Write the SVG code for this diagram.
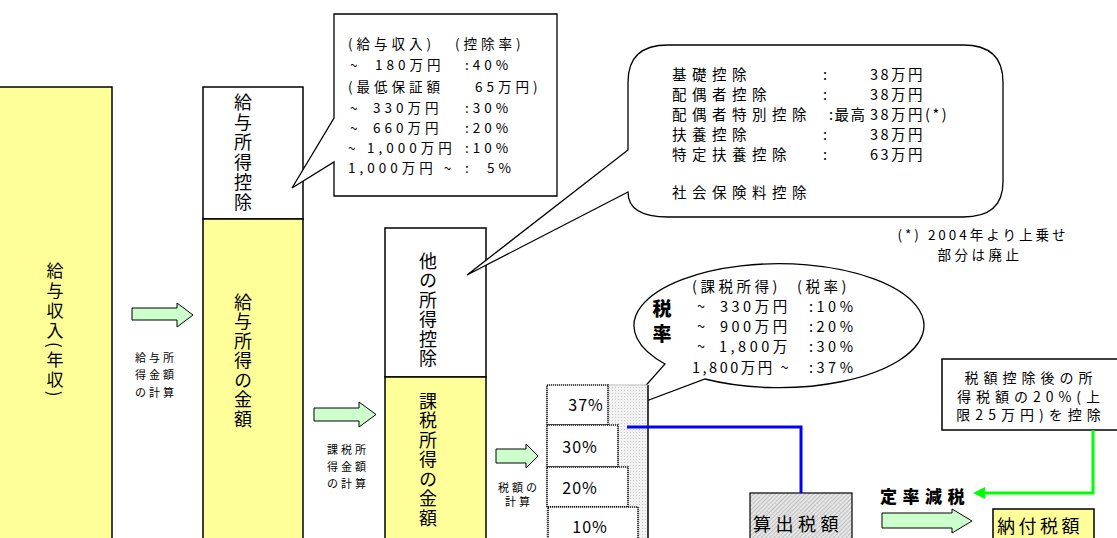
<svg xmlns="http://www.w3.org/2000/svg" width="1117" height="538" viewBox="0 0 1117 538">
<style>
text{font-family:"Noto Sans CJK JP","Noto Sans",sans-serif;fill:#000}
.vt{writing-mode:vertical-rl;font-size:18px;letter-spacing:1.5px}
.c1{font-size:13.5px;letter-spacing:4px}
.c2{font-size:14.5px;letter-spacing:5.5px}
.n2{font-size:14.5px;letter-spacing:2.5px}
.c3{font-size:14.5px;letter-spacing:3.5px}
.sm{font-size:11px;letter-spacing:3px;text-anchor:middle}
.pct{font-size:16px;letter-spacing:1px;text-anchor:middle}
.yel{fill:#ffff99;stroke:#000;stroke-width:1.5}
.wht{fill:#fff;stroke:#000;stroke-width:1.5}
.barr{fill:#ccffcc;stroke:#000;stroke-width:1}
.bx{fill:#fff;stroke:#111;stroke-width:1.6;stroke-dasharray:1.2 0.8}
.call{fill:#fff;stroke:#000;stroke-width:1.3}
</style>
<defs>
<pattern id="hatch" width="3" height="3" patternUnits="userSpaceOnUse" patternTransform="rotate(45)">
<rect width="3" height="3" fill="#e6e6e6"/><line x1="0" y1="0" x2="0" y2="3" stroke="#9a9a9a" stroke-width="1"/>
</pattern>
<pattern id="dots" width="3" height="3" patternUnits="userSpaceOnUse">
<rect width="3" height="3" fill="#f2f2f2"/><rect width="1" height="1" fill="#c8c8c8"/>
</pattern>
</defs>

<g id="col-salary">
<rect class="yel" x="-1" y="87" width="113" height="460"/>
<text class="vt" x="55" y="262" style="font-size:17px;letter-spacing:3px">給与収入(年収)</text>
</g>

<g id="col-deduction">
<rect class="wht" x="203" y="87" width="100" height="132"/>
<text class="vt" x="243" y="93" style="letter-spacing:2px">給与所得控除</text>
</g>
<g id="col-income">
<rect class="yel" x="203" y="219" width="100" height="330"/>
<text class="vt" x="243" y="293">給与所得の金額</text>
</g>

<g id="col-other">
<rect class="wht" x="385" y="228" width="101" height="149"/>
<text class="vt" x="428" y="252">他の所得控除</text>
</g>
<g id="col-taxable">
<rect class="yel" x="385" y="377" width="101" height="170"/>
<text class="vt" x="428" y="392">課税所得の金額</text>
</g>

<g id="callout-salary">
<path class="call" d="M334,14 H557 V196 H334 V162 L292,188 L334,118 Z"/>
<text class="c1" x="348" y="49">(給与収入)</text><text class="c1" x="455" y="49">(控除率)</text>
<text class="c1" x="350" y="70">~</text><text class="c1" x="375" y="70">180万円</text><text class="c1" x="465" y="70">:40%</text>
<text class="c1" x="348" y="92">(最低保証額</text><text class="c1" x="475" y="92">65万円)</text>
<text class="c1" x="350" y="113">~</text><text class="c1" x="373" y="113">330万円</text><text class="c1" x="465" y="113">:30%</text>
<text class="c1" x="350" y="133">~</text><text class="c1" x="373" y="133">660万円</text><text class="c1" x="465" y="133">:20%</text>
<text class="c1" x="348" y="153">~</text><text class="c1" x="367" y="153">1,000万円</text><text class="c1" x="465" y="153">:10%</text>
<text class="c1" x="348" y="173">1,000万円 ~</text><text class="c1" x="465" y="173">:</text><text class="c1" x="487" y="173">5%</text>
</g>

<g id="callout-other">
<path class="call" d="M668,45 H963 Q1003,45 1003,82 V182 Q1003,217 963,217 H668 Q628,217 628,192 L467,275 L628,150 V82 Q628,45 668,45 Z"/>
<text class="c2" x="672" y="80">基礎控除</text><text class="c2" x="823" y="80">:</text><text class="n2" x="870" y="80">38万円</text>
<text class="c2" x="672" y="100">配偶者控除</text><text class="c2" x="823" y="100">:</text><text class="n2" x="870" y="100">38万円</text>
<text class="c2" x="672" y="120">配偶者特別控除</text><text x="829" y="120" style="font-size:14.5px;letter-spacing:1.5px">:最高</text><text class="n2" x="870" y="120">38万円(*)</text>
<text class="c2" x="672" y="140">扶養控除</text><text class="c2" x="823" y="140">:</text><text class="n2" x="870" y="140">38万円</text>
<text class="c2" x="672" y="160">特定扶養控除</text><text class="c2" x="823" y="160">:</text><text class="n2" x="870" y="160">63万円</text>
<text class="c2" x="672" y="198">社会保険料控除</text>
</g>

<g id="footnote">
<text x="983" y="240" text-anchor="middle" style="font-size:13.5px;letter-spacing:3px">(*) 2004年より上乗せ</text>
<text x="980" y="260" text-anchor="middle" style="font-size:13.5px;letter-spacing:3.5px">部分は廃止</text>
</g>

<g id="callout-rate">
<path class="call" d="M665,364 A145,62 0 1 1 705,379 L625,409 Z"/>
<text x="662" y="316" text-anchor="middle" style="font-size:19px;font-weight:900">税</text>
<text x="662" y="341" text-anchor="middle" style="font-size:19px;font-weight:900">率</text>
<text class="c3" x="692" y="292">(課税所得)</text><text class="c3" x="797" y="292">(税率)</text>
<text class="c3" x="697" y="312">~</text><text class="c3" x="720" y="312">330万円</text><text class="c3" x="809" y="312">:10%</text>
<text class="c3" x="697" y="332">~</text><text class="c3" x="720" y="332">900万円</text><text class="c3" x="809" y="332">:20%</text>
<text class="c3" x="697" y="352">~</text><text class="c3" x="719" y="352">1,800万</text><text class="c3" x="809" y="352">:30%</text>
<text class="c3" x="692" y="373" style="letter-spacing:2.5px">1,800万円 ~</text><text class="c3" x="809" y="373">:37%</text>
</g>

<g id="tax-bars">
<rect x="546" y="385" width="102" height="160" fill="url(#dots)"/>
<line x1="648" y1="385" x2="648" y2="540" stroke="#000" stroke-width="1.5"/>
<line x1="608" y1="385" x2="648" y2="385" stroke="#bbb" stroke-width="1"/>
<rect class="bx" x="547" y="385" width="61" height="40"/>
<rect class="bx" x="547" y="425" width="71" height="42"/>
<rect class="bx" x="547" y="467" width="81" height="40"/>
<rect class="bx" x="548" y="507" width="90" height="40"/>
<text class="pct" x="586" y="411">37%</text>
<text class="pct" x="580" y="453">30%</text>
<text class="pct" x="580" y="494">20%</text>
<text class="pct" x="590" y="533">10%</text>
</g>

<g id="box-calc-tax">
<rect x="750" y="493" width="102" height="55" fill="url(#hatch)" stroke="#000" stroke-width="1.2"/>
<text x="753" y="531" style="font-size:18px;letter-spacing:4.5px">算出税額</text>
</g>

<g id="box-pay-tax">
<rect class="yel" x="993" y="509" width="101" height="40"/>
<text x="997" y="533" style="font-size:18px;letter-spacing:3.5px">納付税額</text>
</g>

<g id="box-rebate">
<rect class="wht" x="942" y="359" width="176" height="71"/>
<text x="1031" y="383" text-anchor="middle" style="font-size:14px;letter-spacing:5px">税額控除後の所</text>
<text x="1031" y="402" text-anchor="middle" style="font-size:14px;letter-spacing:5px">得税額の20%(上</text>
<text x="1031" y="420" text-anchor="middle" style="font-size:14px;letter-spacing:5px">限25万円)を控除</text>
</g>

<g id="label-teiritsu">
<text x="880" y="503" style="font-size:17px;font-weight:900;letter-spacing:5.5px">定率減税</text>
</g>

<g id="connectors">
<polygon class="barr" points="132,308 177,308 177,303 193,315 177,327 177,320 132,320"/>
<text class="sm" x="156" y="362">給与所</text>
<text class="sm" x="156" y="379">得金額</text>
<text class="sm" x="156" y="397">の計算</text>
<polygon class="barr" points="314,408 359,408 359,402 376,414.5 359,427 359,421 314,421"/>
<text class="sm" x="348" y="454">課税所</text>
<text class="sm" x="348" y="471">得金額</text>
<text class="sm" x="348" y="488">の計算</text>
<polygon class="barr" points="496,449 526,449 526,444 538,456 526,468 526,463 496,463"/>
<text class="sm" x="519" y="492">税額の</text>
<text class="sm" x="519" y="506">計算</text>
<polyline points="627,427 801,427 801,493" fill="none" stroke="#0000ff" stroke-width="3"/>
<polyline points="1093,430 1093,493 983,493" fill="none" stroke="#00ff00" stroke-width="3"/>
<polygon points="973,493 985,487 985,499" fill="#00ff00"/>
<polygon class="barr" points="882,513 952,513 952,509 972,521 952,533 952,528 882,528"/>
</g>
</svg>
